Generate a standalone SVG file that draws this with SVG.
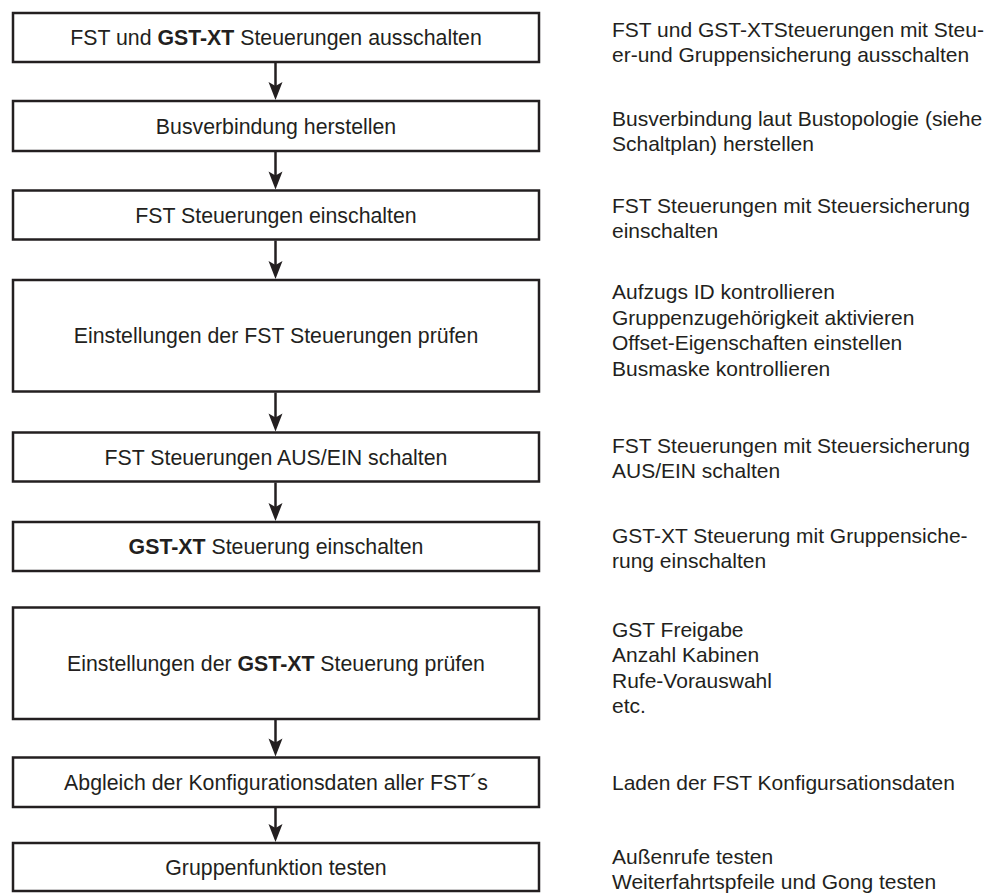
<svg xmlns="http://www.w3.org/2000/svg" width="1000" height="893" viewBox="0 0 1000 893">
<style>
.box{fill:#ffffff;stroke:#231f20;stroke-width:2.5}
.t{font-family:"Liberation Sans",Arial,sans-serif;font-size:21.3px;fill:#231f20;text-anchor:middle}
.n{font-family:"Liberation Sans",Arial,sans-serif;font-size:21px;fill:#231f20}
.b{font-weight:bold}
.c{stroke:#231f20;stroke-width:2.5;fill:none}
.h{fill:#231f20;stroke:none}
</style>
<defs>
<path id="ah" d="M0,0 L-7,-18 L0,-14 L7,-18 Z"/>
</defs>
<rect width="1000" height="893" fill="#ffffff"/>
<g id="connectors">
<line class="c" x1="275.5" y1="63" x2="275.5" y2="88"/><use href="#ah" class="h" x="275.5" y="100"/>
<line class="c" x1="275.5" y1="152" x2="275.5" y2="177"/><use href="#ah" class="h" x="275.5" y="189.5"/>
<line class="c" x1="275.5" y1="240.5" x2="275.5" y2="266"/><use href="#ah" class="h" x="275.5" y="279"/>
<line class="c" x1="275.5" y1="392.5" x2="275.5" y2="419"/><use href="#ah" class="h" x="275.5" y="431.5"/>
<line class="c" x1="275.5" y1="482.5" x2="275.5" y2="508"/><use href="#ah" class="h" x="275.5" y="521"/>
<line class="c" x1="275.5" y1="720" x2="275.5" y2="744"/><use href="#ah" class="h" x="275.5" y="756.5"/>
<line class="c" x1="275.5" y1="808" x2="275.5" y2="830"/><use href="#ah" class="h" x="275.5" y="842"/>
</g>
<g id="n1">
<rect class="box" x="13" y="13" width="526" height="49"/>
<text class="t" x="276" y="45">FST und <tspan class="b">GST-XT</tspan> Steuerungen ausschalten</text>
<text class="n" x="612" y="37">FST und GST-XTSteuerungen mit Steu-</text>
<text class="n" x="612" y="62">er-und Gruppensicherung ausschalten</text>
</g>
<g id="n2">
<rect class="box" x="13" y="101" width="526" height="50"/>
<text class="t" x="276" y="133.5">Busverbindung herstellen</text>
<text class="n" x="612" y="125.5">Busverbindung laut Bustopologie (siehe</text>
<text class="n" x="612" y="150.5">Schaltplan) herstellen</text>
</g>
<g id="n3">
<rect class="box" x="13" y="190.5" width="526" height="49"/>
<text class="t" x="276" y="222.5">FST Steuerungen einschalten</text>
<text class="n" x="612" y="212.5">FST Steuerungen mit Steuersicherung</text>
<text class="n" x="612" y="237.5">einschalten</text>
</g>
<g id="n4">
<rect class="box" x="13" y="280" width="526" height="111.5"/>
<text class="t" x="276" y="343">Einstellungen der FST Steuerungen prüfen</text>
<text class="n" x="612" y="299">Aufzugs ID kontrollieren</text>
<text class="n" x="612" y="324.5">Gruppenzugehörigkeit aktivieren</text>
<text class="n" x="612" y="350">Offset-Eigenschaften einstellen</text>
<text class="n" x="612" y="375.5">Busmaske kontrollieren</text>
</g>
<g id="n5">
<rect class="box" x="13" y="432.5" width="526" height="49"/>
<text class="t" x="276" y="464.5">FST Steuerungen AUS/EIN schalten</text>
<text class="n" x="612" y="452.5">FST Steuerungen mit Steuersicherung</text>
<text class="n" x="612" y="477.5">AUS/EIN schalten</text>
</g>
<g id="n6">
<rect class="box" x="13" y="522" width="526" height="49"/>
<text class="t" x="276" y="554"><tspan class="b">GST-XT</tspan> Steuerung einschalten</text>
<text class="n" x="612" y="542.5">GST-XT Steuerung mit Gruppensiche-</text>
<text class="n" x="612" y="567.5">rung einschalten</text>
</g>
<g id="n7">
<rect class="box" x="13" y="607.5" width="526" height="111.5"/>
<text class="t" x="276" y="670.5">Einstellungen der <tspan class="b">GST-XT</tspan> Steuerung prüfen</text>
<text class="n" x="612" y="636.5">GST Freigabe</text>
<text class="n" x="612" y="662">Anzahl Kabinen</text>
<text class="n" x="612" y="687.5">Rufe-Vorauswahl</text>
<text class="n" x="612" y="713">etc.</text>
</g>
<g id="n8">
<rect class="box" x="13" y="757.5" width="526" height="49.5"/>
<text class="t" x="276" y="790">Abgleich der Konfigurationsdaten aller FST´s</text>
<text class="n" x="612" y="790">Laden der FST Konfigursationsdaten</text>
</g>
<g id="n9">
<rect class="box" x="13" y="843" width="526" height="48"/>
<text class="t" x="276" y="874.5">Gruppenfunktion testen</text>
<text class="n" x="612" y="863.5">Außenrufe testen</text>
<text class="n" x="612" y="888.5">Weiterfahrtspfeile und Gong testen</text>
</g>
</svg>
